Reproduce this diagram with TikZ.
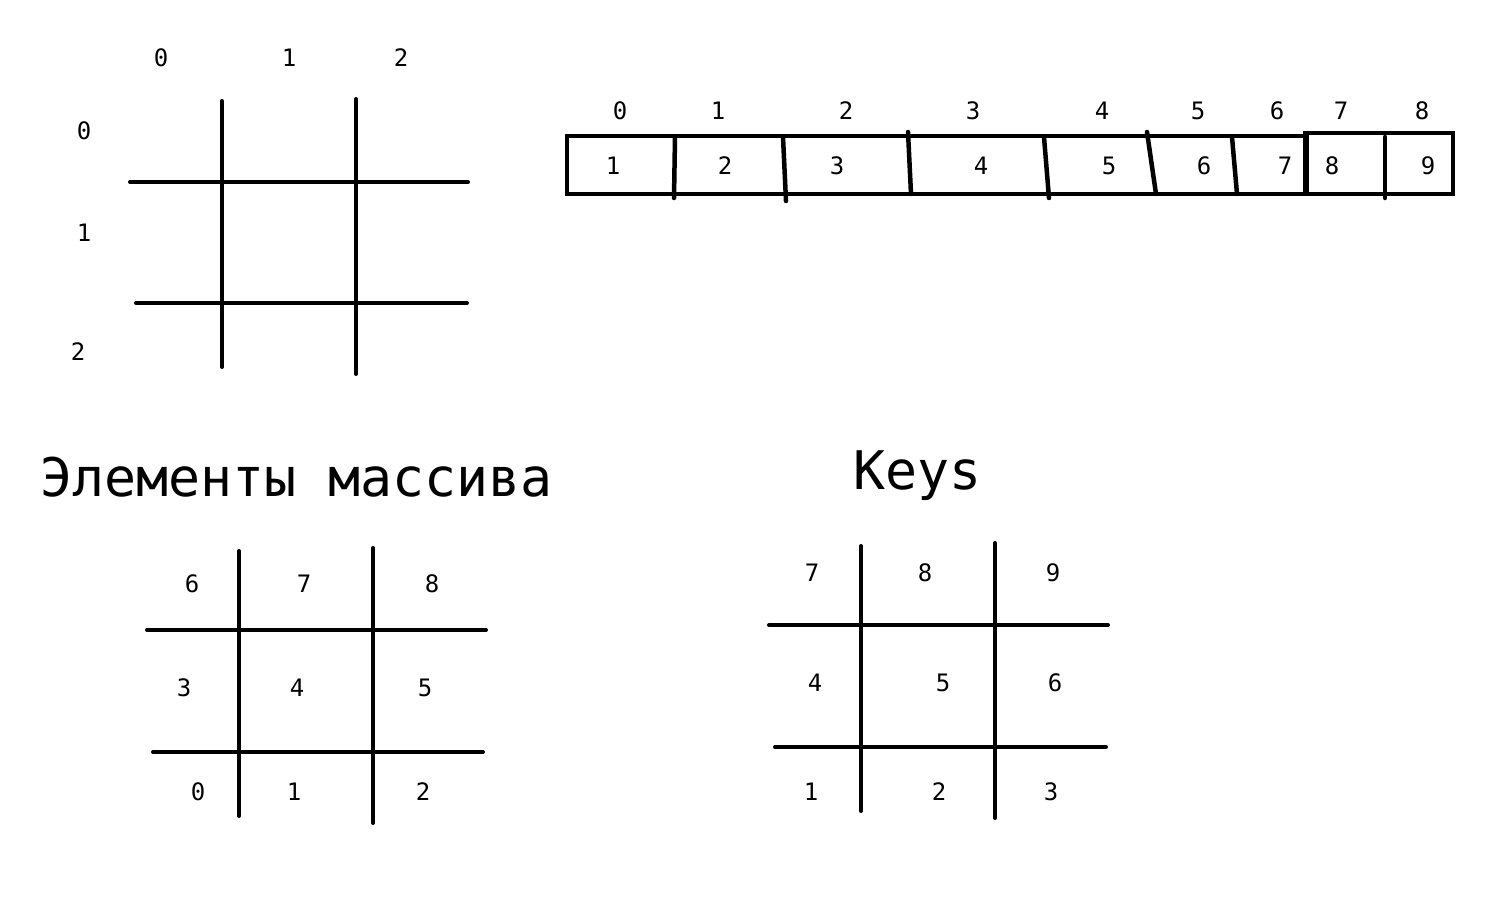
\documentclass[tikz,border=0pt]{standalone}
\usepackage{fontspec}
\setmonofont{DejaVu Sans Mono}
\begin{document}
\begin{tikzpicture}[x=1pt,y=-1pt,
  lbl/.style={font=\ttfamily\fontsize{24}{24}\selectfont,inner sep=0pt,anchor=center},
  ttl/.style={font=\ttfamily\fontsize{53.2}{53.2}\selectfont,inner sep=0pt,anchor=base west},
  gline/.style={line width=4pt,line cap=round},
  aline/.style={line width=4.5pt}]
\useasboundingbox[fill=white] (0,0) rectangle (1510,902);

% ---------- top-left grid ----------
\draw[gline] (222,101) -- (222,367);
\draw[gline] (356,99) -- (356,374);
\draw[gline] (130,182) -- (468,182);
\draw[gline] (136,303) -- (467,303);
\node[lbl] (c0) at (161,58) {0};
\node[lbl] (c1) at (289,58) {1};
\node[lbl] (c2) at (401,58) {2};
\node[lbl] (r0) at (84,131) {0};
\node[lbl] (r1) at (84,233) {1};
\node[lbl] (r2) at (78,352) {2};

% ---------- array ----------
\draw[aline,line join=miter] (1306,136) -- (567,136) -- (567,194) -- (1453,194) -- (1453,133) -- (1306,133);
\draw[aline,line cap=round] (675,137) -- (674,198);
\draw[aline,line cap=round] (783,137) -- (786,201);
\draw[aline,line cap=round] (908,132) -- (911,194);
\draw[aline,line cap=round] (1044,137) -- (1049,198);
\draw[aline,line cap=round] (1147,132) -- (1156,194);
\draw[aline,line cap=round] (1232,137) -- (1237,194);
\draw[line width=6pt] (1306,131) -- (1306,194);
\draw[aline,line cap=round] (1385,137) -- (1385,198);

\foreach \x/\t [count=\i] in {620/0,718/1,846/2,973/3,1102/4,1198/5,1277/6,1341/7,1422/8}
  \node[lbl] (ai\i) at (\x,111) {\t};
\foreach \x/\t [count=\i] in {613/1,725/2,837/3,981/4,1109/5,1204/6,1285/7,1332/8,1428/9}
  \node[lbl] (av\i) at (\x,166) {\t};

% ---------- titles ----------
\node[ttl] (title1) at (40,496) {Элементы массива};
\node[ttl] (title2) at (853,489) {Keys};

% ---------- bottom-left grid ----------
\draw[gline] (239,551) -- (239,816);
\draw[gline] (373,548) -- (373,823);
\draw[gline] (147,630) -- (486,630);
\draw[gline] (153,752) -- (483,752);
\foreach \x/\y/\t [count=\i] in {192/584/6,304/584/7,432/584/8,184/688/3,297/688/4,425/688/5,198/792/0,294/792/1,423/792/2}
  \node[lbl] (e\i) at (\x,\y) {\t};

% ---------- bottom-right grid ----------
\draw[gline] (861,546) -- (861,811);
\draw[gline] (995,543) -- (995,818);
\draw[gline] (769,625) -- (1108,625);
\draw[gline] (775,747) -- (1106,747);
\foreach \x/\y/\t [count=\i] in {812/573/7,925/573/8,1053/573/9,815/683/4,943/683/5,1055/683/6,811/792/1,939/792/2,1051/792/3}
  \node[lbl] (k\i) at (\x,\y) {\t};
\end{tikzpicture}
\end{document}
